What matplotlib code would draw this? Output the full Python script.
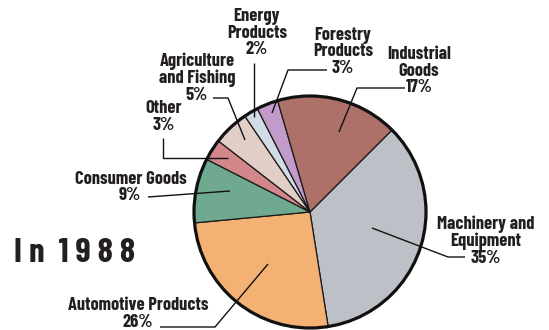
import matplotlib
matplotlib.use("Agg")
import matplotlib.pyplot as plt
from matplotlib.patches import Circle

# exports by product category, 1988 (percent)
categories = ["Machinery and\nEquipment", "Automotive Products", "Consumer Goods",
              "Other", "Agriculture\nand Fishing", "Energy\nProducts",
              "Forestry\nProducts", "Industrial\nGoods"]
shares = [35, 26, 9, 3, 5, 2, 3, 17]
colors = ["#bdc0c6", "#f3b273", "#6fa98f", "#d4878b", "#e0cec7", "#d2dce9",
          "#c29bca", "#ad7169"]

FONT = ["Barlow Condensed", "Roboto Condensed", "DejaVu Sans"]
INK = "#231f20"
H = 330  # image height, labels below are placed in pixel coords (y down)

fig = plt.figure(figsize=(5.49, 3.30), dpi=100)
ax = fig.add_axes([0, 0, 1, 1])

cx, cy, r = 310, 212, 116
ax.pie(shares, colors=colors, startangle=45, counterclock=False,
       center=(cx, H - cy), radius=r,
       wedgeprops=dict(edgecolor="#1a1a1a", linewidth=0.9))
ax.add_patch(Circle((cx, H - cy), r, fill=False, lw=2.3, ec="#111111", zorder=5))
ax.set_xlim(0, 549)
ax.set_ylim(0, H)
ax.set_aspect("equal")
ax.axis("off")


def label(x, y, txt, ha="center"):
    ax.text(x, H - y, txt, ha=ha, va="center", fontsize=13.3, family=FONT,
            fontweight="bold", color=INK, linespacing=0.98)


def leader(pts):
    xs = [p[0] for p in pts]
    ys = [H - p[1] for p in pts]
    ax.plot(xs, ys, color="#111111", lw=1.0, zorder=6, solid_capstyle="butt")


# label positions / leader lines (pixel coords)
label(486, 241, f"{categories[0]}\n{shares[0]}%")
leader([(465, 257), (448, 257), (372, 228)])

label(138, 314, f"{categories[1]}\n{shares[1]}%")
leader([(160, 327), (215, 327), (268, 264)])

label(187, 180, categories[2], ha="right")
label(130, 196, f"{shares[2]}%")
leader([(148, 197), (230, 191)])

label(164, 117, f"{categories[3]}\n{shares[3]}%")
leader([(163, 138), (163, 158), (228, 158)])

label(197, 78, f"{categories[4]}\n{shares[4]}%")
leader([(213, 98), (228, 98), (245, 140)])

label(257, 33, f"{categories[5]}\n{shares[5]}%")
leader([(254, 63), (254, 117)])

label(343, 52, f"{categories[6]}\n{shares[6]}%")
leader([(327, 70), (288, 70), (272, 113)])

label(419, 71, f"{categories[7]}\n{shares[7]}%")
leader([(405, 88), (357, 88), (339, 132)])

ax.text(14, H - 253, "I n  1 9 8 8", ha="left", va="center", fontsize=25,
        family=FONT, fontweight="bold", color=INK)

fig.savefig("out.png", dpi=100)
